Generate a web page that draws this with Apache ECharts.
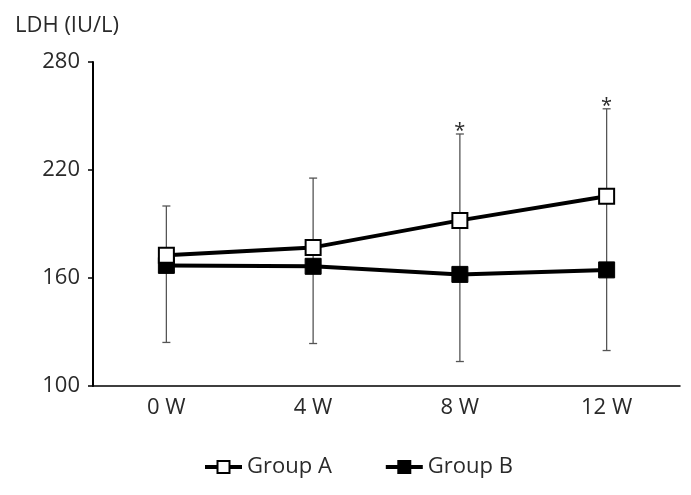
<!DOCTYPE html>
<html><head><meta charset="utf-8">
<script src="https://cdn.jsdelivr.net/npm/echarts@6/dist/echarts.min.js"></script>
<style>html,body{margin:0;padding:0;background:#fff}#c{width:691px;height:495px}</style>
</head><body><div id="c"></div>
<script>
var categories = ['0 W', '4 W', '8 W', '12 W'];
var groupA = [172.6, 177, 192, 205.4];
var groupB = [167, 166.5, 162, 164.5];
var errUpper = [200, 215.5, 240, 254];
var errLower = [124.2, 123.6, 113.6, 119.7];
var stars = ['', '', '*', '*'];
var yTicks = [100, 160, 220, 280];

var FONT = '"Open Sans", sans-serif';
var chart = echarts.init(document.getElementById('c'));
var errData = categories.map(function (c, i) { return [i, errLower[i], errUpper[i], stars[i]]; });

chart.setOption({
  animation: false,
  grid: { left: 93, right: 11, top: 62, bottom: 109 },
  xAxis: {
    type: 'category', data: categories, boundaryGap: true,
    axisLine: { lineStyle: { color: '#000', width: 1.5 } },
    axisTick: { show: false },
    axisLabel: { color: '#2a2a2a', fontSize: 22, fontFamily: FONT, margin: 11 }
  },
  yAxis: {
    type: 'value', min: yTicks[0], max: yTicks[yTicks.length - 1], interval: 60,
    name: 'LDH (IU/L)', nameLocation: 'end', nameGap: 25,
    nameTextStyle: { color: '#2a2a2a', fontSize: 22, fontFamily: FONT, align: 'left', padding: [0, 0, 0, -78] },
    axisLine: { show: true, lineStyle: { color: '#000', width: 2 } },
    axisTick: { show: true, length: 5, lineStyle: { color: '#000', width: 1.5 } },
    splitLine: { show: false },
    axisLabel: { color: '#2a2a2a', fontSize: 22, fontFamily: FONT, margin: 13 }
  },
  legend: {
    bottom: 12, left: 198, itemGap: 52, itemWidth: 37, itemHeight: 15,
    textStyle: { color: '#2a2a2a', fontSize: 22, fontFamily: FONT },
    lineStyle: { width: 4 },
    data: ['Group A', 'Group B']
  },
  series: [
    {
      type: 'custom', name: 'err', z: 1,
      data: errData,
      renderItem: function (params, api) {
        var x = api.value(0);
        var lo = api.coord([x, api.value(1)]);
        var hi = api.coord([x, api.value(2)]);
        var cw = 4;
        var st = { stroke: '#555', lineWidth: 1.3 };
        var children = [
          { type: 'line', shape: { x1: lo[0], y1: lo[1], x2: hi[0], y2: hi[1] }, style: st },
          { type: 'line', shape: { x1: lo[0] - cw, y1: lo[1], x2: lo[0] + cw, y2: lo[1] }, style: st },
          { type: 'line', shape: { x1: hi[0] - cw, y1: hi[1], x2: hi[0] + cw, y2: hi[1] }, style: st }
        ];
        var s = api.value(3);
        if (s) {
          children.push({ type: 'text', x: hi[0], y: hi[1] - 3,
            style: { text: s, fill: '#2a2a2a', font: '20px ' + FONT, align: 'center', verticalAlign: 'middle' } });
        }
        return { type: 'group', children: children };
      }
    },
    {
      type: 'line', name: 'Group A', data: groupA, z: 3,
      symbol: 'rect', symbolSize: 15,
      lineStyle: { color: '#000', width: 4 },
      itemStyle: { color: '#fff', borderColor: '#000', borderWidth: 2 }
    },
    {
      type: 'line', name: 'Group B', data: groupB, z: 2,
      symbol: 'rect', symbolSize: 16,
      lineStyle: { color: '#000', width: 4 },
      itemStyle: { color: '#000', borderColor: '#000', borderWidth: 1 }
    }
  ]
});
</script></body></html>
